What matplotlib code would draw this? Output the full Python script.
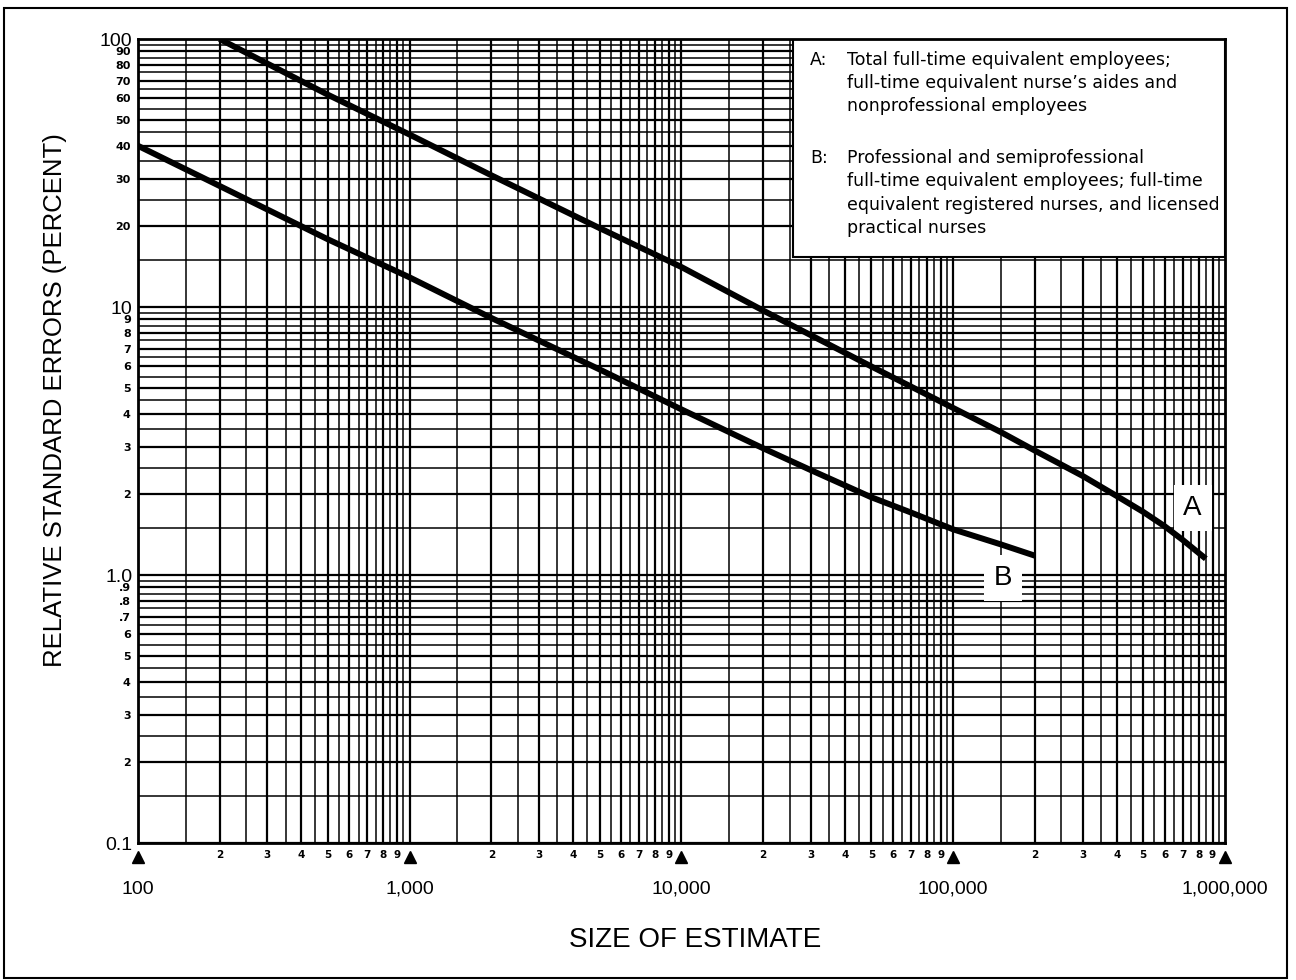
import matplotlib
matplotlib.use('Agg')
import matplotlib.pyplot as plt
import matplotlib.transforms as mtransforms
from matplotlib.patches import Rectangle

plt.rcParams['font.family'] = ['Liberation Sans', 'DejaVu Sans']

# curve A: total FTE employees, aides and nonprofessional
size_a = [200, 500, 1000, 2000, 5000, 10000, 20000, 50000, 100000, 150000, 200000,
          300000, 400000, 500000, 600000, 700000, 850000]
rse_a = [100, 62, 44, 31, 19.7, 14.1, 9.7, 6.0, 4.2, 3.41, 2.91,
         2.34, 1.97, 1.72, 1.52, 1.35, 1.15]

# curve B: professional and semiprofessional
size_b = [100, 200, 500, 1000, 2000, 5000, 10000, 20000, 30000, 50000, 70000,
          100000, 150000, 200000]
rse_b = [40, 28.3, 17.9, 12.9, 9.1, 5.85, 4.15, 2.97, 2.46, 1.95, 1.71,
         1.48, 1.3, 1.18]

x_decades = [100, 1000, 10000, 100000, 1000000]
x_major_labels = ['100', '1,000', '10,000', '100,000', '1,000,000']
y_decades = [0.1, 1, 10, 100]
y_major_labels = ['0.1', '1.0', '10', '100']
minor_steps = [2, 3, 4, 5, 6, 7, 8, 9]
grid_steps = [1.0, 1.5, 2.0, 2.5, 3.0, 3.5, 4.0, 4.5, 5.0, 5.5, 6.0, 6.5, 7.0, 7.5, 8.0, 8.5, 9.0, 9.5]
y_minor_labels = ['2', '3', '4', '5', '6', '.7', '.8', '.9',
                  '2', '3', '4', '5', '6', '7', '8', '9',
                  '20', '30', '40', '50', '60', '70', '80', '90']

legend_a = ['Total full-time equivalent employees;',
            'full-time equivalent nurse\u2019s aides and',
            'nonprofessional employees']
legend_b = ['Professional and semiprofessional',
            'full-time equivalent employees; full-time',
            'equivalent registered nurses, and licensed',
            'practical nurses']

W, H = 1296, 980
fig = plt.figure(figsize=(W / 100, H / 100), dpi=100)
fig.patch.set_facecolor('white')

ax = fig.add_axes([137.7 / W, 1 - 843 / H, (1225 - 137.7) / W, (843 - 39) / H])
ax.set_xscale('log')
ax.set_yscale('log')
ax.set_xlim(100, 1000000)
ax.set_ylim(0.1, 100)

# graph-paper grid
for d in x_decades[:-1]:
    for s in grid_steps:
        lw = 1.6 if s == int(s) else 1.1
        ax.axvline(d * s, color='black', lw=lw, zorder=1)
for d in y_decades[:-1]:
    for s in grid_steps:
        lw = 1.6 if s == int(s) else 1.1
        ax.axhline(d * s, color='black', lw=lw, zorder=1)

# legend box sits over the grid
ax.add_patch(Rectangle((0.603, 0.729), 0.397, 0.271, transform=ax.transAxes,
                       facecolor='white', edgecolor='black', lw=1.5, zorder=3))

ax.plot(size_a, rse_a, color='black', lw=4.3, zorder=4, solid_capstyle='butt')
ax.plot(size_b, rse_b, color='black', lw=4.3, zorder=4, solid_capstyle='butt')

# curve letters blank out the grid but not the curves
box = dict(facecolor='white', edgecolor='none', boxstyle='square,pad=0.35')
ax.text(760000, 1.78, 'A', fontsize=20, ha='center', va='center', zorder=3.5, bbox=box)
ax.text(152800, 0.975, 'B', fontsize=20, ha='center', va='center', zorder=3.5, bbox=box)

# ticks
ax.set_xticks(x_decades, labels=x_major_labels)
x_minor = [d * m for d in x_decades[:-1] for m in minor_steps]
ax.set_xticks(x_minor, labels=[str(m) for d in x_decades[:-1] for m in minor_steps], minor=True)
ax.set_yticks(y_decades, labels=y_major_labels)
y_minor = [d * m for d in y_decades[:-1] for m in minor_steps]
ax.set_yticks(y_minor, labels=y_minor_labels, minor=True)

ax.tick_params(which='both', length=0)
ax.tick_params(axis='x', which='major', labelsize=14, pad=27)
ax.tick_params(axis='x', which='minor', labelsize=7.5, pad=5)
ax.tick_params(axis='y', which='major', labelsize=14, pad=4)
ax.tick_params(axis='y', which='minor', labelsize=8, pad=5)
for lab in ax.get_xticklabels(minor=True) + ax.get_yticklabels(minor=True):
    lab.set_fontweight('bold')
    lab.set_family('DejaVu Sans')

for sp in ax.spines.values():
    sp.set_linewidth(2)
    sp.set_zorder(6)

# decade arrows under the x axis
trans = mtransforms.blended_transform_factory(ax.transData, ax.transAxes)
ax.plot(x_decades, [-0.018] * len(x_decades), ls='none', marker='^', ms=9,
        color='black', transform=trans, clip_on=False)

# legend text
fs = 12.5
fig.text(810 / W, 1 - 60 / H, 'A:', fontsize=fs, family='DejaVu Sans', va='center')
for i, line in enumerate(legend_a):
    fig.text(847 / W, 1 - (60 + 23 * i) / H, line, fontsize=fs, family='DejaVu Sans', va='center')
fig.text(810 / W, 1 - 158 / H, 'B:', fontsize=fs, family='DejaVu Sans', va='center')
for i, line in enumerate(legend_b):
    fig.text(847 / W, 1 - (158 + 23.3 * i) / H, line, fontsize=fs, family='DejaVu Sans', va='center')

fig.text(55 / W, 1 - 400 / H, 'RELATIVE STANDARD ERRORS (PERCENT)', rotation=90,
         fontsize=18.5, ha='center', va='center')
fig.text(695 / W, 1 - 940 / H, 'SIZE OF ESTIMATE', fontsize=20, ha='center', va='center')

# outer frame
fig.add_artist(Rectangle((4 / W, 2 / H), 1283 / W, 970 / H, transform=fig.transFigure,
                         fill=False, edgecolor='black', lw=1.5))

fig.savefig('out.png', dpi=100)
